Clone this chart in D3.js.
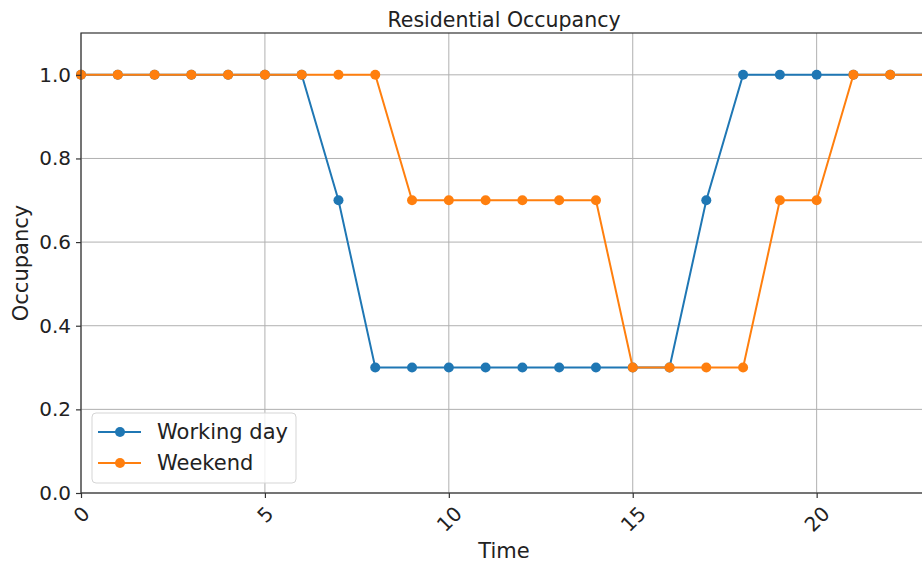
<!DOCTYPE html>
<html><head><meta charset="utf-8">
<script src="https://cdn.jsdelivr.net/npm/d3@7"></script>
<style>body{margin:0;background:#fff}svg{display:block}text{font-family:"DejaVu Sans",sans-serif;fill:#222}</style>
</head><body><svg id="c" width="922" height="563"></svg>
<script>
const hours = d3.range(0, 24);
const workingDay = [1,1,1,1,1,1,1,0.7,0.3,0.3,0.3,0.3,0.3,0.3,0.3,0.3,0.3,0.7,1,1,1,1,1,1];
const weekend = [1,1,1,1,1,1,1,1,1,0.7,0.7,0.7,0.7,0.7,0.7,0.3,0.3,0.3,0.3,0.7,0.7,1,1,1];
const xTicks = [0,5,10,15,20];
const yTicks = [0,0.2,0.4,0.6,0.8,1.0];
const seriesNames = ["Working day","Weekend"];
const colors = ["#1f77b4","#ff7f0e"];

const svg = d3.select("#c");
const L=81, R=927, T=33, B=493;
const x = d3.scaleLinear().domain([0,23]).range([L,R]);
const y = d3.scaleLinear().domain([0,1.1]).range([B,T]);

const g = svg.append("g");
// grid
g.selectAll(".gx").data(xTicks).enter().append("line")
 .attr("x1",d=>x(d)).attr("x2",d=>x(d)).attr("y1",T).attr("y2",B)
 .attr("stroke","#b0b0b0").attr("stroke-width",1);
g.selectAll(".gy").data(yTicks).enter().append("line")
 .attr("x1",L).attr("x2",R).attr("y1",d=>y(d)).attr("y2",d=>y(d))
 .attr("stroke","#b0b0b0").attr("stroke-width",1);

// series
const data = [workingDay, weekend];
const line = d3.line().x((d,i)=>x(hours[i])).y(d=>y(d));
data.forEach((s,k)=>{
  g.append("path").attr("d",line(s)).attr("fill","none").attr("stroke",colors[k]).attr("stroke-width",2);
  g.selectAll(".p"+k).data(s).enter().append("circle")
   .attr("cx",(d,i)=>x(hours[i])).attr("cy",d=>y(d)).attr("r",5).attr("fill",colors[k]);
});

// spines
g.append("rect").attr("x",L).attr("y",T).attr("width",R-L).attr("height",B-T)
 .attr("fill","none").attr("stroke","#333").attr("stroke-width",1.2);

// y axis
const ya = svg.append("g").attr("transform",`translate(${L},0)`)
 .call(d3.axisLeft(y).tickValues(yTicks).tickFormat(d3.format(".1f")).tickSize(5).tickPadding(5));
ya.select(".domain").remove();
ya.selectAll("line").attr("stroke","#333").attr("stroke-width",1.2);
ya.selectAll("text").attr("font-size",20).attr("fill","#222").attr("font-family","DejaVu Sans");

// x axis
const xa = svg.append("g").attr("transform",`translate(0,${B})`)
 .call(d3.axisBottom(x).tickValues(xTicks).tickFormat(d3.format("d")).tickSize(5));
xa.select(".domain").remove();
xa.selectAll("line").attr("stroke","#333").attr("stroke-width",1.2);
xa.selectAll("text").attr("font-size",20).attr("fill","#222").attr("font-family","DejaVu Sans")
 .attr("y",0).attr("dy",0).attr("text-anchor","middle").attr("dominant-baseline","central")
 .each(function(){
   const w = this.getComputedTextLength();
   const ty = 12 + (w + 14) / (2*Math.SQRT2);
   d3.select(this).attr("transform",`translate(0,${ty}) rotate(-45)`);
 });

// titles
svg.append("text").attr("x",(L+R)/2).attr("y",27).attr("text-anchor","middle").attr("font-size",20.5).text("Residential Occupancy");
svg.append("text").attr("x",(L+R)/2).attr("y",558).attr("text-anchor","middle").attr("font-size",21).text("Time");
svg.append("text").attr("transform",`translate(28,${(T+B)/2}) rotate(-90)`).attr("text-anchor","middle").attr("font-size",21).text("Occupancy");

// legend
const lg = svg.append("g");
lg.append("rect").attr("x",92).attr("y",413).attr("width",204).attr("height",70).attr("rx",4)
 .attr("fill","rgba(255,255,255,0.8)").attr("stroke","#d5d5d5");
seriesNames.forEach((n,k)=>{
  const yy = 432 + k*31;
  lg.append("line").attr("x1",98).attr("x2",141).attr("y1",yy).attr("y2",yy).attr("stroke",colors[k]).attr("stroke-width",2);
  lg.append("circle").attr("cx",120).attr("cy",yy).attr("r",5).attr("fill",colors[k]);
  lg.append("text").attr("x",157).attr("y",yy).attr("dy","0.35em").attr("font-size",21).text(n);
});
</script></body></html>
